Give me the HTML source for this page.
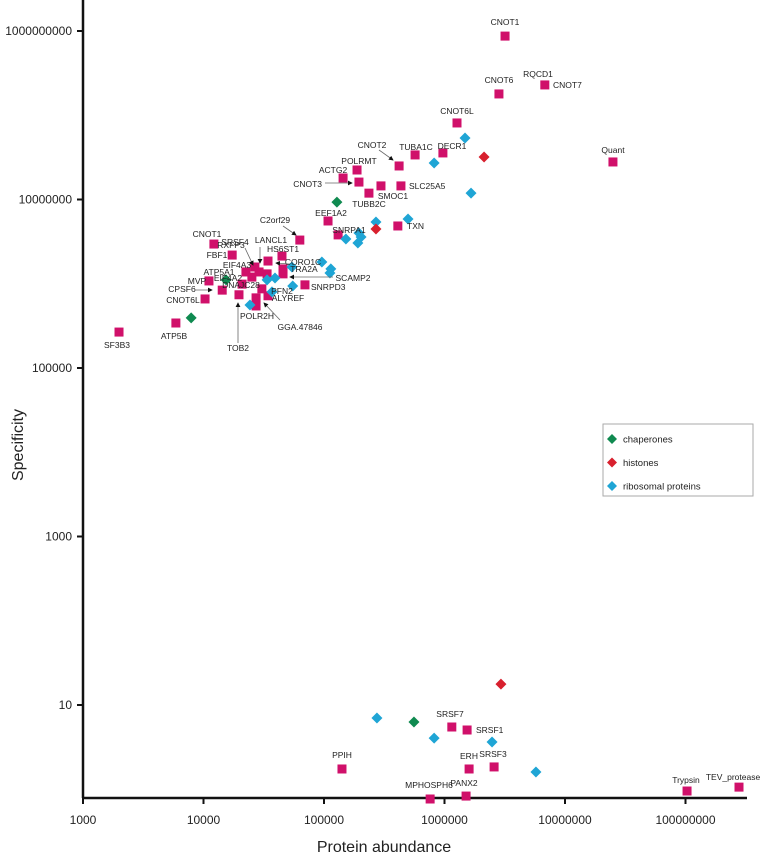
<!DOCTYPE html>
<html><head><meta charset="utf-8"><style>
html,body{margin:0;padding:0;background:#fff;}
svg{display:block;font-family:"Liberation Sans",Arial,sans-serif;}
</style></head><body>
<svg id="chart" width="763" height="853">
<defs><marker id="ah" markerWidth="6" markerHeight="6" refX="5" refY="3" orient="auto"><path d="M0,0 L6,3 L0,6 z" fill="#111"/></marker></defs>
<g id="axes"></g><g id="marks"></g><g id="labels"></g>
</svg>
<script>
const abundance = [3.18e6,2.83e6,6.8e6,1.27e6,2.5e7,9.7e5,5.7e5,4.2e5,1.88e5,1.44e5,1.95e5,2.97e5,4.35e5,2.36e5,1.08e5,1.31e5,4.1e5,6.3e4,1.22e4,1.73e4,4.48e4,3.43e4,2.67e4,2.25e4,2.89e4,3.37e4,2.52e4,4.57e4,4.57e4,2.09e4,3.05e4,3.43e4,2.73e4,2.73e4,1.97e4,1.43e4,1.11e4,1.03e4,5.9e3,1.99e3,6.95e4,
1.41e5,1.15e6,1.54e6,1.6e6,2.58e6,7.6e5,1.51e6,1.03e8,2.78e8,
1.48e6,8.2e5,1.66e6,2.7e5,4.98e5,1.52e5,1.95e5,2.03e5,1.91e5,9.6e4,1.14e5,1.12e5,5.5e4,3.92e4,3.37e4,2.43e4,3.7e4,5.42e4,2.75e5,8.2e5,2.48e6,5.74e6,
2.13e6,2.7e5,2.94e6,
1.28e5,1.54e4,7.9e3,5.58e5];
const specificity = [8.7e8,1.79e8,2.29e8,8.1e7,2.79e7,3.57e7,3.38e7,2.5e7,2.24e7,1.8e7,1.61e7,1.45e7,1.45e7,1.19e7,5.56e6,3.8e6,4.85e6,3.3e6,2.96e6,2.19e6,2.13e6,1.86e6,1.58e6,1.38e6,1.38e6,1.31e6,1.2e6,1.5e6,1.31e6,9.9e5,8.7e5,7.2e5,6.8e5,5.45e5,7.4e5,8.4e5,1.08e6,6.6e5,3.42e5,2.67e5,9.7e5,
1.74,5.48,5.05,1.74,1.84,0.766,0.83,0.953,1.06,
5.37e7,2.71e7,1.19e7,5.4e6,5.87e6,3.4e6,4.0e6,3.59e6,3.05e6,1.81e6,1.5e6,1.34e6,9.4e5,1.17e6,1.11e6,5.6e5,8.0e5,1.58e6,7.0,4.05,3.64,1.6,
3.19e7,4.47e6,17.7,
9.3e6,1.11e6,3.93e5,6.28];
const group = [].concat(Array(50).fill('other'),Array(22).fill('ribosomal'),Array(3).fill('histone'),Array(4).fill('chaperone'));
const pointLabels = ['CNOT1','CNOT6','CNOT7','CNOT6L','Quant','DECR1','TUBA1C','','POLRMT','ACTG2','','','SLC25A5','TUBB2C','EEF1A2','SNRPA1','TXN','','CNOT1','FBF1','HS6ST1','','','','','','','','','','','','','','','','MVP','CNOT6L','ATP5B','SF3B3','SNRPD3',
'PPIH','SRSF7','SRSF1','ERH','SRSF3','MPHOSPH6','PANX2','Trypsin','TEV_protease'];
const xTicks = [1000,10000,100000,1000000,10000000,100000000];
const yTicks = [10,1000,100000,10000000,1000000000];
const seriesNames = ['chaperones','histones','ribosomal proteins'];

const X0=83, XD=120.5, Y0=31, YD=84.25;
const xs = v => X0 + XD*(Math.log10(v)-3);
const ys = v => Y0 + YD*(9-Math.log10(v));
const NS='http://www.w3.org/2000/svg';
const colors={other:'#d0106a',ribosomal:'#1fa5d5',histone:'#d8202e',chaperone:'#0f8a50'};
function el(tag,attrs,parent,txt){const e=document.createElementNS(NS,tag);for(const k in attrs)e.setAttribute(k,attrs[k]);if(txt!==undefined)e.textContent=txt;parent.appendChild(e);return e;}
const axes=document.getElementById('axes'), marks=document.getElementById('marks'), labs=document.getElementById('labels');
let a=el('line',{x1:83,y1:0,x2:83,y2:798,stroke:'#111','stroke-width':2.5},axes);


a=el('line',{x1:82,y1:798,x2:747,y2:798,stroke:'#111','stroke-width':2.5},axes);


xTicks.forEach(t=>{const x=xs(t);
 el('line',{x1:x,y1:798,x2:x,y2:804,stroke:'#111','stroke-width':2},axes);
 const tx=el('text',{x:x,y:824,'font-size':12,'text-anchor':'middle',fill:'#222'},axes,String(t));
 
 });
yTicks.forEach(t=>{const y=ys(t);
 el('line',{x1:77,y1:y,x2:83,y2:y,stroke:'#111','stroke-width':2},axes);
 const tx=el('text',{x:72,y:y+4,'font-size':12,'text-anchor':'end',fill:'#222'},axes,String(t));
 
 });
let t=el('text',{x:384,y:852,'font-size':16,'text-anchor':'middle',fill:'#222'},axes,'Protein abundance');


t=el('text',{x:0,y:0,'font-size':16,'text-anchor':'middle',fill:'#222',transform:'translate(23,445) rotate(-90)'},axes,'Specificity');



abundance.forEach((v,i)=>{const x=xs(v),y=ys(specificity[i]),g=group[i];let m;
 if(g==='other'){m=el('rect',{x:x-4.5,y:y-4.5,width:9,height:9,fill:colors[g]},marks);}
 else{m=el('path',{d:`M${x},${y-5.5}L${x+5.5},${y}L${x},${y+5.5}L${x-5.5},${y}Z`,fill:colors[g]},marks);}
 
 });

// labels: [text,x,y,anchor]
const L=[['CNOT1',505,25,'middle'],['CNOT6',499,83,'middle'],['RQCD1',538,77,'middle'],['CNOT7',553,88,'start'],['CNOT6L',457,114,'middle'],['Quant',613,153,'middle'],['DECR1',452,149,'middle'],['TUBA1C',416,150,'middle'],['CNOT2',372,148,'middle'],['POLRMT',359,164,'middle'],['ACTG2',333,173,'middle'],['CNOT3',322,187,'end'],['SMOC1',393,199,'middle'],['SLC25A5',409,189,'start'],['TUBB2C',369,207,'middle'],['EEF1A2',331,216,'middle'],['SNRPA1',349,233,'middle'],['TXN',407,229,'start'],['C2orf29',275,223,'middle'],['CNOT1',207,237,'middle'],['RXFP3',231,248,'middle'],['FBF1',217,258,'middle'],['SRSF4',235,245,'middle'],['LANCL1',271,243,'middle'],['HS6ST1',283,252,'middle'],['EIF4A3',237,268,'middle'],['CORO1C',303,265,'middle'],['TRA2A',304,272,'middle'],['ATP5A1',219,275,'middle'],['MVP',197,284,'middle'],['EIF4A2',228,281,'middle'],['DNAJC28',241,288,'middle'],['CPSF6',182,292,'middle'],['CNOT6L',183,303,'middle'],['PFN2',282,294,'middle'],['ALYREF',288,301,'middle'],['POLR2H',257,319,'middle'],['GGA.47846',300,330,'middle'],['TOB2',238,351,'middle'],['SCAMP2',353,281,'middle'],['SNRPD3',311,290,'start'],['ATP5B',174,339,'middle'],['SF3B3',117,348,'middle'],['PPIH',342,758,'middle'],['SRSF7',450,717,'middle'],['SRSF1',476,733,'start'],['ERH',469,759,'middle'],['SRSF3',493,757,'middle'],['MPHOSPH6',429,788,'middle'],['PANX2',464,786,'middle'],['Trypsin',686,783,'middle'],['TEV_protease',733,780,'middle']];
L.forEach(l=>{const e=el('text',{x:l[1],y:l[2],'font-size':8.5,'text-anchor':l[3],fill:'#222'},labs,l[0]);
 
 });
const arrows=[[379,150,393,160],[325,183,352,183],[283,226,296,235],[245,248,253,265],[260,247,260,263],[289,264,276,263],[333,277,290,277],[195,290,212,290],[280,320,264,303],[238,343,238,303]];
arrows.forEach(r=>{const e=el('line',{x1:r[0],y1:r[1],x2:r[2],y2:r[3],stroke:'#666','stroke-width':0.8,'marker-end':'url(#ah)'},labs);
 
 });

// legend
const lg=el('g',{},labs);


el('rect',{x:603,y:424,width:150,height:72,fill:'#fff',stroke:'#aaa','stroke-width':1},lg);
const lc=['#0f8a50','#d8202e','#1fa5d5'];
seriesNames.forEach((n,i)=>{const y=439+i*23.5;
 const d=el('path',{d:`M612,${y-5}L617,${y}L612,${y+5}L607,${y}Z`,fill:lc[i]},lg);
 
 
 const tx=el('text',{x:623,y:y+3.5,'font-size':9.5,fill:'#222'},lg,n);
 
 });
</script>
</body></html>
